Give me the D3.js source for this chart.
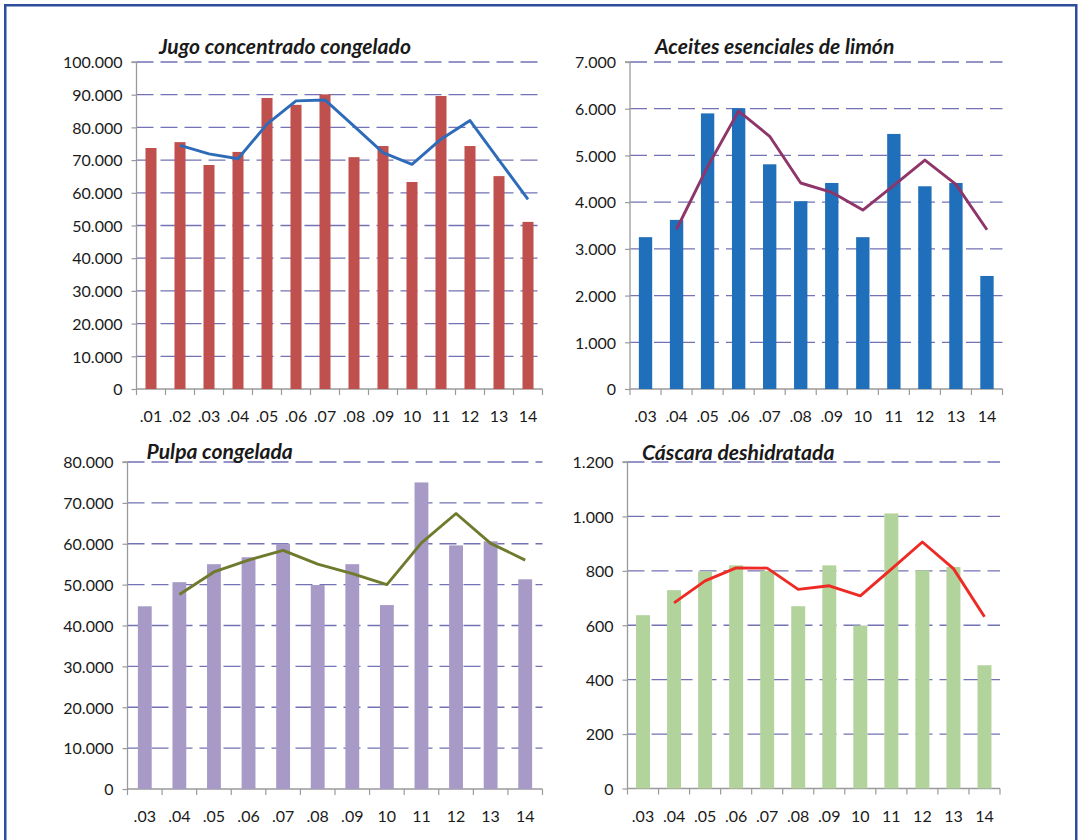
<!DOCTYPE html>
<html>
<head>
<meta charset="utf-8">
<script src="https://cdn.jsdelivr.net/npm/d3@7"></script>
<style>
  html, body { margin: 0; padding: 0; background: #fff; }
  svg { display: block; }
  text { font-family: "Lato", "Open Sans", sans-serif; fill: #1a1a1a; }
</style>
</head>
<body>
<svg id="chart" width="1078" height="840"></svg>
<script>
// ---------- DATA ----------
const cats1 = [".01", ".02", ".03", ".04", ".05", ".06", ".07", ".08", ".09", "10", "11", "12", "13", "14"];
const jugo = [73700, 75500, 68500, 72500, 89000, 86900, 90100, 70900, 74300, 63300, 89600, 74300, 65100, 51100];
const jugoTrend = [null, 74500, 71900, 70400, 81000, 88100, 88400, 80400, 72300, 68700, 76400, 82100, 70000, 58000];
const jugoTicks = [0, 10000, 20000, 30000, 40000, 50000, 60000, 70000, 80000, 90000, 100000];

const cats2 = [".03", ".04", ".05", ".06", ".07", ".08", ".09", "10", "11", "12", "13", "14"];
const aceites = [3250, 3620, 5900, 6010, 4810, 4020, 4410, 3250, 5460, 4340, 4410, 2420];
const aceitesTrend = [null, 3420, 4760, 5950, 5410, 4410, 4210, 3830, 4360, 4900, 4380, 3410];
const aceitesTicks = [0, 1000, 2000, 3000, 4000, 5000, 6000, 7000];

const pulpa = [44700, 50600, 55000, 56700, 60000, 49900, 55000, 45000, 75000, 59600, 60600, 51300];
const pulpaTrend = [null, 47600, 53100, 56000, 58400, 55000, 52700, 50000, 60200, 67400, 60100, 56000];
const pulpaTicks = [0, 10000, 20000, 30000, 40000, 50000, 60000, 70000, 80000];

const cascara = [637, 729, 798, 820, 800, 670, 820, 599, 1011, 802, 814, 453];
const cascaraTrend = [null, 682, 763, 811, 810, 732, 745, 708, 806, 906, 808, 631];
const cascaraTicks = [0, 200, 400, 600, 800, 1000, 1200];

const titles = ["Jugo concentrado congelado", "Aceites esenciales de limón", "Pulpa congelada", "Cáscara deshidratada"];

// ---------- LAYOUT ----------
const panels = [
  { title: titles[0], cats: cats1, bars: jugo, trend: jugoTrend, ticks: jugoTicks,
    x0: 136.5, x1: 542.5, yTop: 62, yBot: 389, barRatio: 0.38,
    barColor: "#C0504D", lineColor: "#2E6BB8", titleX: 159, titleY: 54 },
  { title: titles[1], cats: cats2, bars: aceites, trend: aceitesTrend, ticks: aceitesTicks,
    x0: 630, x1: 1002.5, yTop: 62, yBot: 389, barRatio: 0.43,
    barColor: "#1F6FBA", lineColor: "#8E3569", titleX: 655, titleY: 54 },
  { title: titles[2], cats: cats2, bars: pulpa, trend: pulpaTrend, ticks: pulpaTicks,
    x0: 127.5, x1: 542.5, yTop: 462, yBot: 789, barRatio: 0.40,
    barColor: "#A79AC7", lineColor: "#6F7A2C", titleX: 146.5, titleY: 459 },
  { title: titles[3], cats: cats2, bars: cascara, trend: cascaraTrend, ticks: cascaraTicks,
    x0: 627.5, x1: 1000, yTop: 462, yBot: 788.5, barRatio: 0.45,
    barColor: "#B3D39C", lineColor: "#EE2A25", titleX: 642, titleY: 460 }
];

const svg = d3.select("#chart");
svg.append("rect").attr("x", 0).attr("y", 0).attr("width", 1078).attr("height", 840).attr("fill", "#fff");

const locale = d3.formatLocale({ decimal: ",", thousands: ".", grouping: [3], currency: ["$", ""] });
const fmt = locale.format(",d");

panels.forEach(p => {
  const g = svg.append("g");
  const x = d3.scaleBand().domain(p.cats).range([p.x0, p.x1]).padding(0);
  const y = d3.scaleLinear().domain([0, d3.max(p.ticks)]).range([p.yBot, p.yTop]);

  // gridlines
  g.append("g").selectAll("line").data(p.ticks.filter(t => t > 0)).join("line")
    .attr("x1", p.x0).attr("x2", p.x1)
    .attr("y1", d => y(d)).attr("y2", d => y(d))
    .attr("stroke", "#7272B4").attr("stroke-width", 1.3)
    .attr("stroke-dasharray", "17,7");

  // y axis
  const yAxis = d3.axisLeft(y).tickValues(p.ticks).tickFormat(fmt).tickSize(5).tickPadding(9);
  const ya = g.append("g").attr("transform", `translate(${p.x0},0)`).call(yAxis);
  ya.select(".domain").attr("stroke", "#9A9A9A").attr("stroke-width", 1.3).attr("d", `M-5,${p.yTop}H0V${p.yBot}`);
  ya.selectAll(".tick line").attr("stroke", "#9A9A9A").attr("stroke-width", 1.2);
  ya.selectAll(".tick text").attr("font-size", "16px").attr("font-family", "Lato, sans-serif")
    .attr("fill", "#1a1a1a").attr("dy", "0.36em");

  // x axis
  const xAxis = d3.axisBottom(x).tickSize(0).tickPadding(0);
  const xa = g.append("g").attr("transform", `translate(0,${p.yBot})`).call(xAxis);
  xa.select(".domain").attr("stroke", "#9A9A9A").attr("stroke-width", 1.3).attr("d", `M${p.x0},0H${p.x1}`);
  xa.selectAll(".tick text").attr("font-size", "16px").attr("font-family", "Lato, sans-serif")
    .attr("fill", "#1a1a1a").attr("y", 33).attr("dy", 0);
  // category boundary ticks
  const bounds = p.cats.map(c => x(c)).concat([p.x1]);
  g.append("g").selectAll("line").data(bounds).join("line")
    .attr("x1", d => d).attr("x2", d => d)
    .attr("y1", p.yBot).attr("y2", p.yBot + 6)
    .attr("stroke", "#9A9A9A").attr("stroke-width", 1.2);

  // bars
  const bw = x.bandwidth() * p.barRatio;
  g.append("g").selectAll("rect").data(p.bars).join("rect")
    .attr("x", (d, i) => x(p.cats[i]) + (x.bandwidth() - bw) / 2)
    .attr("width", bw)
    .attr("y", d => y(d))
    .attr("height", d => p.yBot - y(d))
    .attr("fill", p.barColor);

  // trend line
  const line = d3.line()
    .defined(d => d != null)
    .x((d, i) => x(p.cats[i]) + x.bandwidth() / 2)
    .y(d => y(d));
  g.append("path").datum(p.trend)
    .attr("d", line)
    .attr("fill", "none")
    .attr("stroke", p.lineColor)
    .attr("stroke-width", 2.9)
    .attr("stroke-linejoin", "round");

  // title
  p.titleNode = g.append("text")
    .attr("x", p.titleX).attr("y", p.titleY)
    .attr("font-size", "20px")
    .attr("font-weight", "bold")
    .attr("font-style", "italic")
    .attr("fill", "#1a1a1a")
    .text(p.title);
});

// size titles consistently so the first matches the reference width
const measured = panels[0].titleNode.node().getComputedTextLength();
const titleSize = 20 * 252 / measured;
panels.forEach(p => p.titleNode.attr("font-size", titleSize.toFixed(2) + "px"));

// outer frame
svg.append("rect")
  .attr("x", 5.25).attr("y", 5.25).attr("width", 1071).attr("height", 900)
  .attr("fill", "none").attr("stroke", "#2E4D9C").attr("stroke-width", 2.5);
</script>
</body>
</html>
